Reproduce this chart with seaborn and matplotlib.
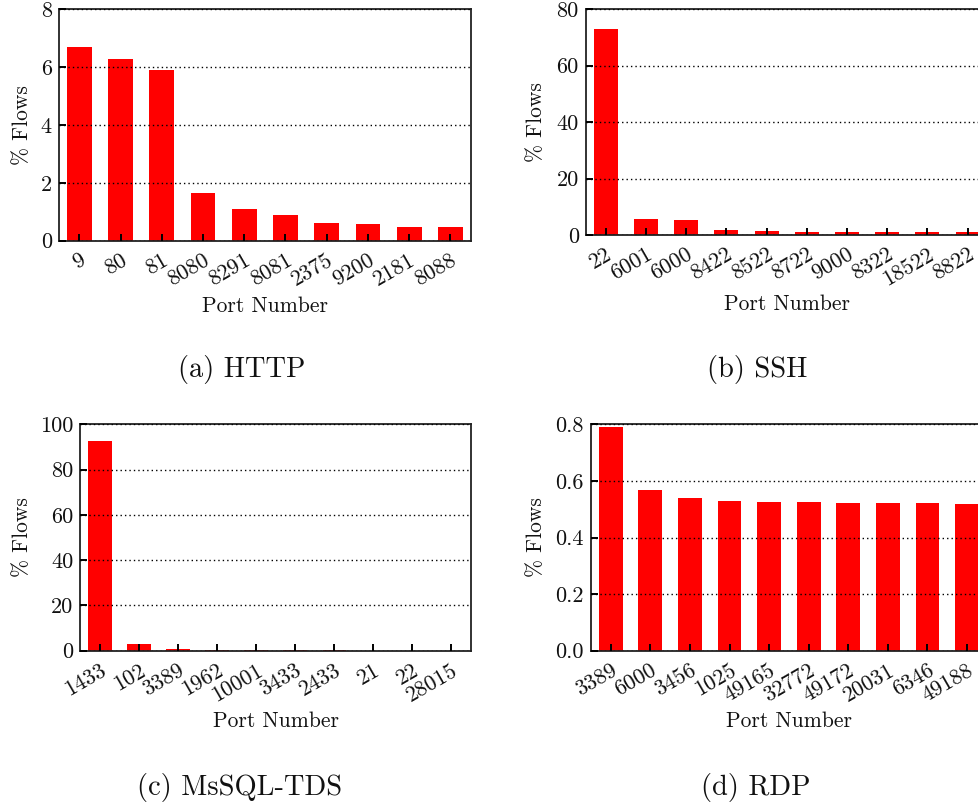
import matplotlib
matplotlib.use("Agg")
import matplotlib.pyplot as plt
import matplotlib.transforms as mtransforms
import pandas as pd
import seaborn as sns

# ---- data -------------------------------------------------------------
http_ports = ["9", "80", "81", "8080", "8291", "8081", "2375", "9200", "2181", "8088"]
http_flows = [6.68, 6.27, 5.89, 1.65, 1.09, 0.89, 0.61, 0.58, 0.47, 0.47]

ssh_ports = ["22", "6001", "6000", "8422", "8522", "8722", "9000", "8322", "18522", "8822"]
ssh_flows = [72.8, 5.7, 5.3, 1.8, 1.5, 1.2, 1.2, 1.2, 0.9, 0.9]

mssql_ports = ["1433", "102", "3389", "1962", "10001", "3433", "2433", "21", "22", "28015"]
mssql_flows = [92.6, 3.0, 0.75, 0.15, 0.12, 0.1, 0.1, 0.08, 0.08, 0.07]

rdp_ports = ["3389", "6000", "3456", "1025", "49165", "32772", "49172", "20031", "6346", "49188"]
rdp_flows = [0.790, 0.568, 0.540, 0.529, 0.525, 0.525, 0.522, 0.522, 0.522, 0.518]

http_yticks = [0, 2, 4, 6, 8]
ssh_yticks = [0, 20, 40, 60, 80]
mssql_yticks = [0, 20, 40, 60, 80, 100]
rdp_yticks = [0.0, 0.2, 0.4, 0.6, 0.8]

http_ytick_labels = ["0", "2", "4", "6", "8"]
ssh_ytick_labels = ["0", "20", "40", "60", "80"]
mssql_ytick_labels = ["0", "20", "40", "60", "80", "100"]
rdp_ytick_labels = ["0.0", "0.2", "0.4", "0.6", "0.8"]

captions = ["(a) HTTP", "(b) SSH", "(c) MsSQL-TDS", "(d) RDP"]

# ---- style ------------------------------------------------------------
sns.set_style("white")
plt.rcParams["font.family"] = ["cmr10", "DejaVu Serif"]
plt.rcParams["mathtext.fontset"] = "cm"
plt.rcParams["axes.formatter.use_mathtext"] = True

W, H = 979, 810
fig = plt.figure(figsize=(W / 100, H / 100), dpi=100)


def px_axes(left, top, right, bottom):
    """Axes rectangle given in pixel edges (origin at top-left)."""
    return fig.add_axes([left / W, 1 - bottom / H, (right - left) / W, (bottom - top) / H])


panels = [
    dict(rect=(58.7, 9.0, 471.0, 240.7), ports=http_ports, flows=http_flows,
         yticks=http_yticks, ylabels=http_ytick_labels, ylim=(0, 8),
         ylab_x=-0.065, xlab_y=-0.239, cap=(241.5, 376.7)),
    dict(rect=(585.7, 9.0, 987.7, 235.0), ports=ssh_ports, flows=ssh_flows,
         yticks=ssh_yticks, ylabels=ssh_ytick_labels, ylim=(0, 80),
         ylab_x=-0.099, xlab_y=-0.265, cap=(757.0, 376.7)),
    dict(rect=(80.3, 424.3, 471.0, 650.7), ports=mssql_ports, flows=mssql_flows,
         yticks=mssql_yticks, ylabels=mssql_ytick_labels, ylim=(0, 100),
         ylab_x=-0.124, xlab_y=-0.269, cap=(240.0, 795.0)),
    dict(rect=(591.0, 424.3, 986.8, 650.7), ports=rdp_ports, flows=rdp_flows,
         yticks=rdp_yticks, ylabels=rdp_ytick_labels, ylim=(0, 0.8),
         ylab_x=-0.114, xlab_y=-0.269, cap=(755.5, 795.0)),
]

label_shift = mtransforms.ScaledTranslation(-3 / 100, 0, fig.dpi_scale_trans)

for p, caption in zip(panels, captions):
    ax = px_axes(*p["rect"])
    df = pd.DataFrame({"port": p["ports"], "flows": p["flows"]})
    sns.barplot(data=df, x="port", y="flows", order=p["ports"], color="#ff0000",
                saturation=1, width=0.6, ax=ax, zorder=1)
    for bar in ax.patches:
        bar.set_edgecolor("none")

    ax.set_xlim(-0.5, len(p["ports"]) - 0.5)
    ax.set_ylim(*p["ylim"])
    ax.set_yticks(p["yticks"])
    ax.set_yticklabels(p["ylabels"])
    ax.set_xticks(range(len(p["ports"])))
    ax.set_xticklabels(p["ports"], rotation=30, ha="right", rotation_mode="anchor")
    for lab in ax.get_xticklabels():
        lab.set_transform(lab.get_transform() + label_shift)

    ax.set_axisbelow(False)
    ax.yaxis.grid(True, color="black", linestyle=(0, (1, 2.2)), linewidth=1.0)
    ax.xaxis.grid(False)

    ax.tick_params(axis="both", direction="in", length=5, width=1.4, color="black",
                   labelsize=16, labelcolor="#111111",
                   bottom=True, left=True, top=False, right=False)
    ax.tick_params(axis="x", pad=7)
    ax.tick_params(axis="y", pad=5)

    for side in ("left", "right", "top", "bottom"):
        ax.spines[side].set_visible(True)
        ax.spines[side].set_color("#222222")
        ax.spines[side].set_linewidth(1.3)

    ax.set_ylabel("% Flows", fontsize=15.5, color="#111111")
    ax.set_xlabel("Port Number", fontsize=15.5, color="#111111")
    ax.yaxis.set_label_coords(p["ylab_x"], 0.5)
    ax.xaxis.set_label_coords(0.5, p["xlab_y"])
    ax.xaxis.label.set_va("top")

    cx, cy = p["cap"]
    fig.text(cx / W, 1 - cy / H, caption, ha="center", va="baseline",
             fontsize=20.5, color="#111111")

fig.savefig("out.png", dpi=100)
